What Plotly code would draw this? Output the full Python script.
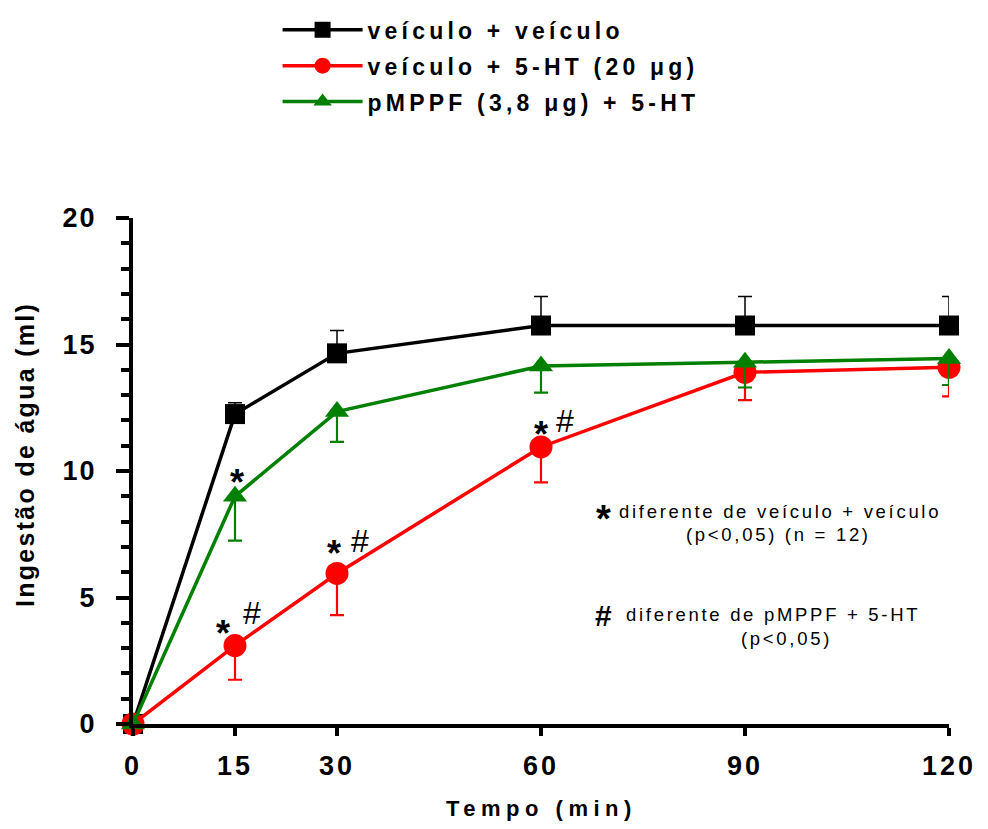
import plotly.graph_objects as go

# ---------------- data ----------------
time_min = [0, 15, 30, 60, 90, 120]

veh_veh = [0, 12.25, 14.65, 15.75, 15.75, 15.75]
veh_veh_sem = [0, 0.45, 0.9, 1.15, 1.15, 1.15]

veh_5ht = [0, 3.1, 5.95, 10.95, 13.9, 14.1]
veh_5ht_sem = [0, 1.35, 1.65, 1.4, 1.1, 1.15]

pmppf_5ht = [0, 9.0, 12.35, 14.15, 14.3, 14.45]
pmppf_5ht_sem = [0, 1.75, 1.2, 1.05, 1.0, 1.05]

series_names = ["veículo + veículo", "veículo + 5-HT (20 μg)", "pMPPF (3,8 μg) + 5-HT"]
x_ticks = [0, 15, 30, 60, 90, 120]
y_ticks = [0, 5, 10, 15, 20]
x_title = "Tempo (min)"
y_title = "Ingestão de água (ml)"

# significance marks: (time index, series)
star_marks = [(1, "pmppf"), (1, "veh5ht"), (2, "veh5ht"), (3, "veh5ht")]
hash_marks = [(1, "veh5ht"), (2, "veh5ht"), (3, "veh5ht")]

FONT = "Liberation Sans, Arial, Helvetica, sans-serif"

W, H = 988, 829
ML, MR, MT, MB = 133, 31, 218, 105


def sp(text, px):
    return f'<span style="letter-spacing:{px}px">{text}</span>'


zeros = [0] * len(time_min)

fig = go.Figure()
fig.add_trace(go.Scatter(
    x=time_min, y=veh_veh, name=sp(series_names[0], 4.2), legendgroup="a",
    mode="lines+markers", cliponaxis=False,
    line=dict(color="#000000", width=3.5),
    marker=dict(symbol="square", size=20, color="#000000"),
    error_y=dict(type="data", symmetric=False, array=veh_veh_sem, arrayminus=zeros,
                 color="#000000", thickness=1.5, width=7),
))
fig.add_trace(go.Scatter(
    x=time_min, y=veh_5ht, name=sp(series_names[1], 4.2), legendgroup="b",
    mode="lines+markers", cliponaxis=False,
    line=dict(color="#FF0000", width=3.5),
    marker=dict(symbol="circle", size=23, color="#FF0000"),
    error_y=dict(type="data", symmetric=False, array=zeros, arrayminus=veh_5ht_sem,
                 color="#FF0000", thickness=2.2, width=7),
))
fig.add_trace(go.Scatter(
    x=time_min, y=pmppf_5ht, name=sp(series_names[2], 4.2), legendgroup="c",
    mode="lines+markers", cliponaxis=False,
    line=dict(color="#008000", width=3.5),
    marker=dict(symbol="triangle-up", size=21, color="#008000"),
    error_y=dict(type="data", symmetric=False, array=zeros, arrayminus=pmppf_5ht_sem,
                 color="#008000", thickness=2.2, width=7),
))

series_lookup = {"veh5ht": veh_5ht, "pmppf": pmppf_5ht}
star_offsets = {(1, "pmppf"): (2, 22), (1, "veh5ht"): (-12, 20),
                (2, "veh5ht"): (-3, 28), (3, "veh5ht"): (0, 20)}
hash_offsets = {(1, "veh5ht"): (17, 33), (2, "veh5ht"): (23, 32), (3, "veh5ht"): (24, 26)}

annotations = []
for key in star_marks:
    i, s = key
    dx, dy = star_offsets[key]
    annotations.append(dict(x=time_min[i], y=series_lookup[s][i], xref="x", yref="y",
                            text="*", showarrow=False, xshift=dx, yshift=dy - 8,
                            font=dict(family=FONT, size=36, color="#000000", weight="bold")))
for key in hash_marks:
    i, s = key
    dx, dy = hash_offsets[key]
    annotations.append(dict(x=time_min[i], y=series_lookup[s][i], xref="x", yref="y",
                            text="#", showarrow=False, xshift=dx, yshift=dy,
                            font=dict(family=FONT, size=32, color="#000000")))


def px2x(px):
    return (px - 133) / 824 * 120


def px2y(py):
    return (724 - py) / 506 * 20


note_font = dict(family=FONT, size=18.5, color="#000000")
notes = [
    ("diferente de veículo + veículo", 786, 511),
    ("(p&lt;0,05) (n = 12)", 785, 534),
    ("diferente de pMPPF + 5-HT", 779, 614),
    ("(p&lt;0,05)", 793, 638),
]
for txt, cx, cy in notes:
    annotations.append(dict(x=px2x(cx), y=px2y(cy), xref="x", yref="y", text=sp(txt, 2.7),
                            showarrow=False, xanchor="center", yanchor="middle", font=note_font))
annotations.append(dict(x=px2x(608), y=px2y(511), xref="x", yref="y", text="*", showarrow=False,
                        yshift=-8, font=dict(family=FONT, size=38, color="#000000", weight="bold")))
annotations.append(dict(x=px2x(608), y=px2y(615), xref="x", yref="y", text="#", showarrow=False,
                        font=dict(family=FONT, size=30, color="#000000", weight="bold")))

# axis titles
annotations.append(dict(x=0.5, y=px2y(808) / 20, xref="paper", yref="paper", text=sp(x_title, 5.5),
                        showarrow=False, xanchor="center", yanchor="middle",
                        font=dict(family=FONT, size=22, color="#000000", weight="bold")))
annotations.append(dict(x=(24 - 133) / 824, y=px2y(455) / 20, xref="paper", yref="paper",
                        text=sp(y_title, 2.3), textangle=-90, showarrow=False,
                        xanchor="center", yanchor="middle",
                        font=dict(family=FONT, size=25, color="#000000", weight="bold")))

tick_font = dict(family=FONT, size=27, color="#000000", weight="bold")

fig.update_layout(
    width=W, height=H,
    margin=dict(l=ML, r=MR, t=MT, b=MB),
    paper_bgcolor="white", plot_bgcolor="white",
    showlegend=True,
    legend=dict(x=(279 - 133) / 824, xanchor="left", y=0.99, yref="container", yanchor="top",
                font=dict(family=FONT, size=23, color="#000000", weight="bold"),
                bgcolor="rgba(0,0,0,0)", tracegroupgap=3, itemwidth=80, traceorder="grouped"),
    xaxis=dict(range=[0, 120], tickvals=x_ticks, ticktext=[sp(str(v), 3) for v in x_ticks],
               showline=True, linewidth=4, linecolor="#000000", showgrid=False, zeroline=False,
               ticks="outside", ticklen=8, tickwidth=4, tickcolor="#000000",
               tickfont=tick_font, ticklabelstandoff=7),
    yaxis=dict(range=[0, 20], tickvals=y_ticks, ticktext=[sp(str(v), 2) for v in y_ticks],
               showline=True, linewidth=4, linecolor="#000000", showgrid=False, zeroline=False,
               ticks="outside", ticklen=13, tickwidth=4, tickcolor="#000000",
               tickfont=tick_font, ticklabelstandoff=14,
               minor=dict(dtick=1, ticks="outside", ticklen=8, tickwidth=4, tickcolor="#000000",
                          showgrid=False)),
    annotations=annotations,
)

fig.write_html(
    "out.html",
    config={"displayModeBar": False},
    post_script="document.body.style.margin='0';document.body.style.overflow='hidden';",
)
